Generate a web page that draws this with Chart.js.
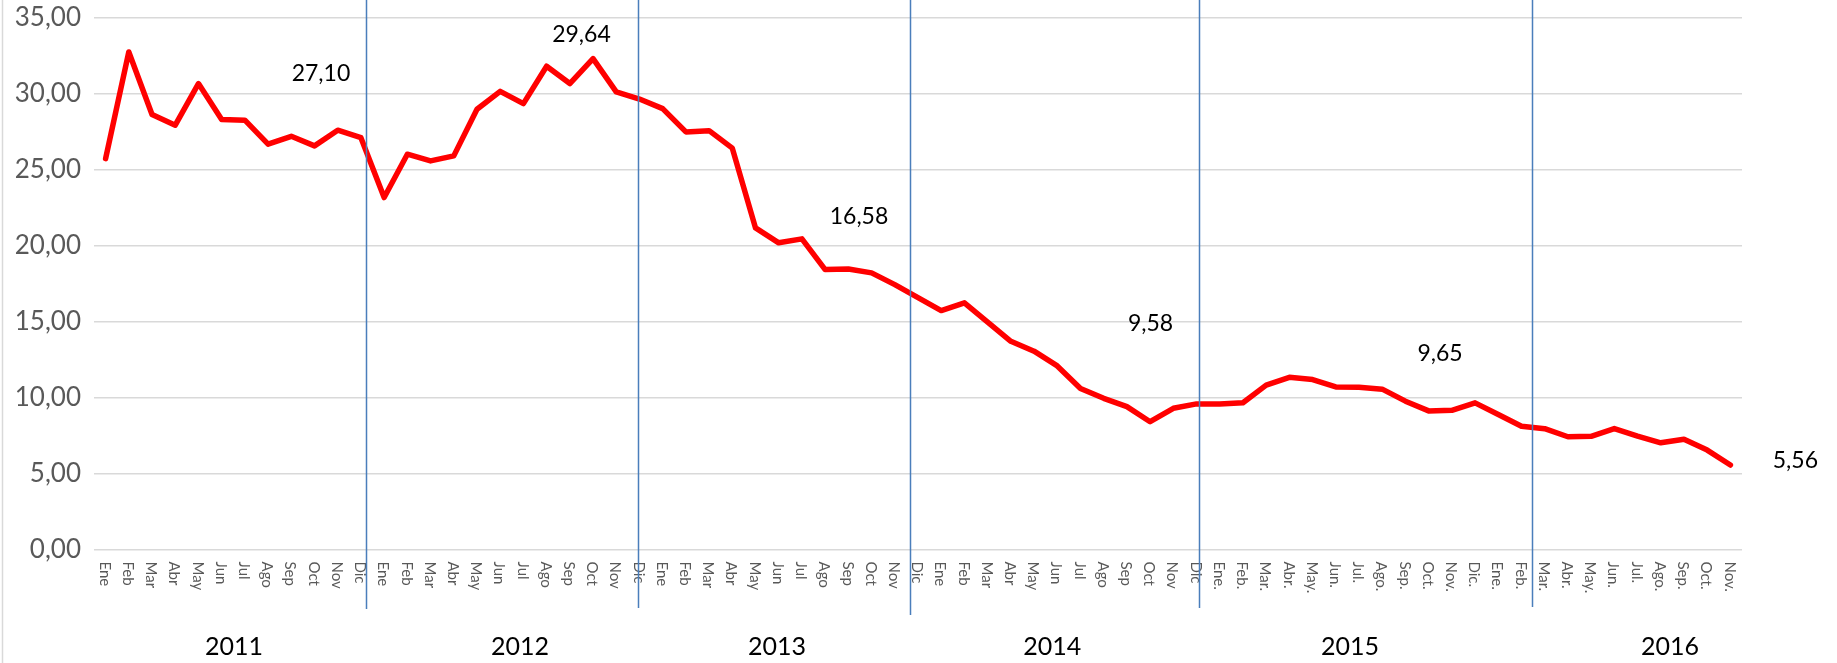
<!DOCTYPE html>
<html lang="es">
<head>
<meta charset="utf-8">
<title>Serie mensual 2011-2016</title>
<script src="https://cdn.jsdelivr.net/npm/chart.js@4.4.1/dist/chart.umd.min.js"></script>
<style>
    html, body { margin: 0; padding: 0; background: #ffffff; }
    #wrap { position: relative; width: 1837px; height: 663px; }
</style>
</head>
<body>
<div id="wrap"><canvas id="grafico"></canvas></div>
<script>
// Meses (2011-2014 sin punto, 2015-2016 con punto)
const mesesSinPunto = ["Ene", "Feb", "Mar", "Abr", "May", "Jun", "Jul", "Ago", "Sep", "Oct", "Nov", "Dic"];
const mesesConPunto = ["Ene.", "Feb.", "Mar.", "Abr.", "May.", "Jun.", "Jul.", "Ago.", "Sep.", "Oct.", "Nov.", "Dic."];
const meses2016 = ["Ene.", "Feb.", "Mar.", "Abr.", "May.", "Jun.", "Jul.", "Ago.", "Sep.", "Oct.", "Nov."];

const categorias = [
    ...mesesSinPunto, ...mesesSinPunto, ...mesesSinPunto, ...mesesSinPunto,
    ...mesesConPunto, ...meses2016
];

// Valores mensuales
const valores2011 = [25.72, 32.74, 28.62, 27.92, 30.66, 28.29, 28.25, 26.67, 27.19, 26.56, 27.59, 27.10];
const valores2012 = [23.16, 26.01, 25.57, 25.90, 28.97, 30.15, 29.34, 31.80, 30.66, 32.30, 30.11, 29.64];
const valores2013 = [29.01, 27.48, 27.56, 26.41, 21.16, 20.18, 20.44, 18.42, 18.46, 18.20, 17.43, 16.58];
const valores2014 = [15.72, 16.23, 14.96, 13.70, 13.05, 12.08, 10.60, 9.95, 9.40, 8.41, 9.29, 9.58];
const valores2015 = [9.57, 9.66, 10.82, 11.33, 11.18, 10.70, 10.68, 10.55, 9.76, 9.12, 9.16, 9.65];
const valores2016 = [8.88, 8.11, 7.95, 7.42, 7.45, 7.96, 7.46, 7.02, 7.26, 6.54, 5.56];

const valores = [...valores2011, ...valores2012, ...valores2013, ...valores2014, ...valores2015, ...valores2016];

const anios = ["2011", "2012", "2013", "2014", "2015", "2016"];
// indices de los puntos que llevan etiqueta de valor
const puntosEtiquetados = [11, 23, 35, 47, 59, 70];
const ticksY = [0, 5, 10, 15, 20, 25, 30, 35];

const formato = v => v.toFixed(2).replace(".", ",");

// posiciones de dibujo (en indices de categoria) para los textos y lineas manuales
const centroAnio = [5.53, 17.85, 28.93, 40.78, 53.61, 67.4];
const separadores = [
    { pos: 11.22, fin: 609 },
    { pos: 22.94, fin: 608 },
    { pos: 34.65, fin: 615 },
    { pos: 47.1, fin: 608 },
    { pos: 61.44, fin: 607 }
];
const desplazamientoEtiqueta = [[-40, -64], [-58, -64], [-59, -81], [-46, -80], [-35, -49], [65, -4]];

const FUENTE = "Lato, 'Open Sans', sans-serif";

const extras = {
    id: "extras",
    afterDraw(chart) {
        const ctx = chart.ctx;
        const x = chart.scales.x;
        const y = chart.scales.y;
        ctx.save();

        // borde izquierdo del marco
        ctx.strokeStyle = "#d9d9d9";
        ctx.lineWidth = 1.5;
        ctx.beginPath();
        ctx.moveTo(2.5, 0);
        ctx.lineTo(2.5, chart.height);
        ctx.stroke();

        // meses, texto girado hacia abajo
        ctx.fillStyle = "#595959";
        ctx.font = "15px " + FUENTE;
        ctx.textAlign = "left";
        ctx.textBaseline = "middle";
        categorias.forEach((mes, i) => {
            ctx.save();
            ctx.translate(x.getPixelForTick(i) - 1, y.bottom + 12);
            ctx.rotate(Math.PI / 2);
            ctx.fillText(mes, 0, 0);
            ctx.restore();
        });

        // anios
        ctx.fillStyle = "#000000";
        ctx.font = "25px " + FUENTE;
        ctx.textAlign = "center";
        ctx.textBaseline = "middle";
        anios.forEach((a, i) => {
            ctx.fillText(a, x.getPixelForValue(centroAnio[i]), 647);
        });

        // lineas separadoras azules
        ctx.strokeStyle = "#4a7ebb";
        ctx.lineWidth = 1.5;
        separadores.forEach(s => {
            const px = Math.round(x.getPixelForValue(s.pos)) + 0.5;
            ctx.beginPath();
            ctx.moveTo(px, 0);
            ctx.lineTo(px, s.fin);
            ctx.stroke();
        });

        // etiquetas de valor
        ctx.fillStyle = "#000000";
        ctx.font = "23px " + FUENTE;
        ctx.textAlign = "center";
        ctx.textBaseline = "middle";
        puntosEtiquetados.forEach((idx, k) => {
            const d = desplazamientoEtiqueta[k];
            ctx.fillText(formato(valores[idx]),
                x.getPixelForValue(idx) + d[0],
                y.getPixelForValue(valores[idx]) + d[1]);
        });

        ctx.restore();
    }
};

new Chart(document.getElementById("grafico"), {
    type: "line",
    data: {
        labels: categorias,
        datasets: [{
            data: valores,
            borderColor: "#ff0000",
            borderWidth: 5.5,
            pointRadius: 0,
            tension: 0,
            borderJoinStyle: "round",
            borderCapStyle: "round",
            fill: false
        }]
    },
    options: {
        responsive: true,
        maintainAspectRatio: false,
        animation: false,
        layout: { padding: { left: 0, right: 95, top: 17.6, bottom: 0 } },
        plugins: { legend: { display: false }, tooltip: { enabled: false } },
        scales: {
            x: {
                offset: true,
                grid: { display: false, drawTicks: false },
                border: { display: false },
                ticks: { display: false },
                afterFit: s => { s.height = 113.5; }
            },
            y: {
                min: 0,
                max: 35,
                afterBuildTicks: s => { s.ticks = ticksY.map(v => ({ value: v })); },
                grid: { color: "#d9d9d9", lineWidth: 1.5, drawTicks: false },
                border: { display: false },
                ticks: {
                    color: "#595959",
                    font: { family: FUENTE, size: 26, lineHeight: 0.3 },
                    padding: 13,
                    callback: v => formato(v)
                },
                afterFit: s => { s.width = 94; }
            }
        }
    },
    plugins: [extras]
});
</script>
</body>
</html>
